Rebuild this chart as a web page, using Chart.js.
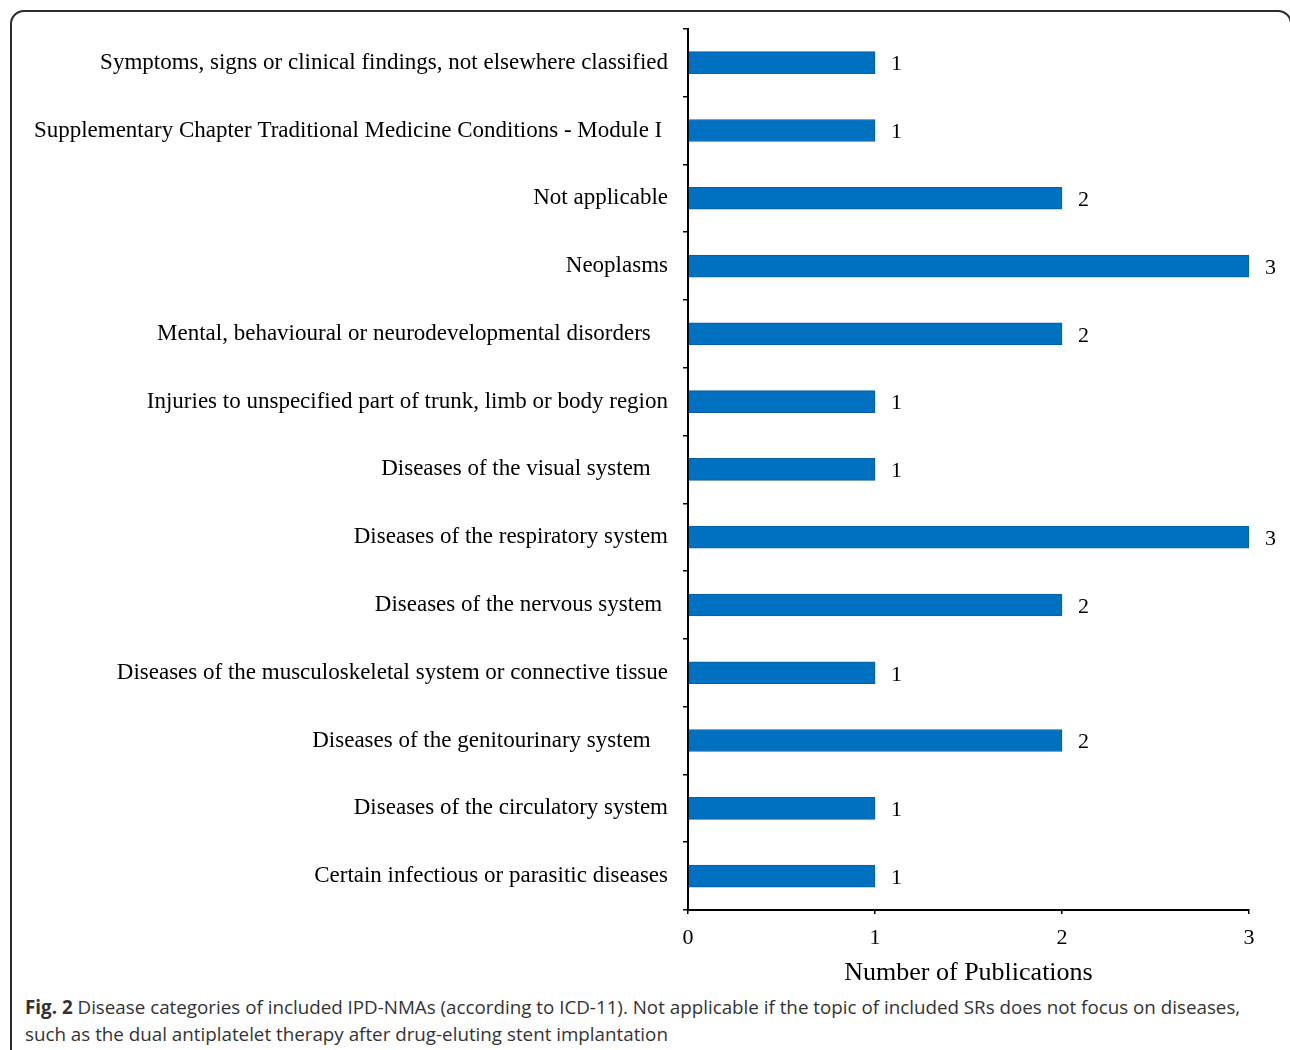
<!DOCTYPE html>
<html>
<head>
<meta charset="utf-8">
<script src="https://cdn.jsdelivr.net/npm/chart.js@4.4.0/dist/chart.umd.min.js"></script>
<style>
  body { margin: 0; background: #fff; width: 1290px; height: 1050px; overflow: hidden; position: relative; }
  #frame { position: absolute; left: 10px; top: 10px; width: 1278px; height: 1100px; border: 2px solid #2b2b2b; border-radius: 14px; }
  #wrap { position: absolute; left: 0; top: 0; width: 1290px; height: 990px; }
  #caption { position: absolute; left: 25px; top: 994px; font-family: "Open Sans", sans-serif; font-size: 18.8px; line-height: 27px; color: #333; }
</style>
</head>
<body>
<div id="frame"></div>
<div id="wrap"><canvas id="myChart"></canvas></div>
<div id="caption"><b>Fig. 2</b> Disease categories of included IPD-NMAs (according to ICD-11). Not applicable if the topic of included SRs does not focus on diseases,<br>such as the dual antiplatelet therapy after drug-eluting stent implantation</div>
<script>
// categories top to bottom, trailing spaces kept as in the original figure
let categories = [
  'Symptoms, signs or clinical findings, not elsewhere classified',
  'Supplementary Chapter Traditional Medicine Conditions - Module I ',
  'Not applicable',
  'Neoplasms',
  'Mental, behavioural or neurodevelopmental disorders   ',
  'Injuries to unspecified part of trunk, limb or body region',
  'Diseases of the visual system   ',
  'Diseases of the respiratory system',
  'Diseases of the nervous system ',
  'Diseases of the musculoskeletal system or connective tissue',
  'Diseases of the genitourinary system   ',
  'Diseases of the circulatory system',
  'Certain infectious or parasitic diseases'
];
let publications = [1, 1, 2, 3, 2, 1, 1, 3, 2, 1, 2, 1, 1];
let xTicks = [0, 1, 2, 3];

// writes the number just right of each bar
let valueLabels = {
  id: 'valueLabels',
  afterDatasetsDraw(chart) {
    let ctx = chart.ctx;
    let meta = chart.getDatasetMeta(0);
    ctx.save();
    ctx.font = '22px "Liberation Serif"';
    ctx.fillStyle = '#000';
    ctx.textAlign = 'left';
    ctx.textBaseline = 'middle';
    meta.data.forEach((bar, i) => {
      ctx.fillText(String(publications[i]), bar.x + 16, bar.y + 2);
    });
    ctx.restore();
  }
};

var ctx = document.getElementById('myChart').getContext('2d');
var chart = new Chart(ctx, {
  type: 'bar',
  data: {
    labels: categories,
    datasets: [{
      data: publications,
      backgroundColor: '#0070C0',
      borderColor: '#0B5E9F',
      borderWidth: 1,
      barThickness: 22
    }]
  },
  plugins: [valueLabels],
  options: {
    indexAxis: 'y',
    responsive: true,
    maintainAspectRatio: false,
    animation: false,
    layout: { padding: { top: 28, right: 41, left: 0, bottom: 0 } },
    plugins: { legend: { display: false }, tooltip: { enabled: false } },
    scales: {
      x: {
        min: 0,
        max: 3,
        afterBuildTicks: (scale) => { scale.ticks = xTicks.map(v => ({ value: v })); },
        afterFit: (scale) => { scale.height = 80; },
        grid: { display: true, drawOnChartArea: false, drawTicks: true, tickLength: 4, color: '#000', lineWidth: 1.5 },
        border: { display: true, color: '#000', width: 2 },
        ticks: { color: '#000', padding: 11, font: { family: 'Liberation Serif', size: 22 } },
        title: {
          display: true,
          text: 'Number of Publications',
          color: '#000',
          padding: { top: 4, bottom: 1 },
          font: { family: 'Liberation Serif', size: 26 }
        }
      },
      y: {
        afterFit: (scale) => { scale.width = 688; },
        grid: { display: true, drawOnChartArea: false, drawTicks: true, tickLength: 5, color: '#000', lineWidth: 1.5, offset: true },
        border: { display: true, color: '#000', width: 2 },
        ticks: { color: '#000', padding: 15, autoSkip: false, font: { family: 'Liberation Serif', size: 23 } }
      }
    }
  }
});
</script>
</body>
</html>
